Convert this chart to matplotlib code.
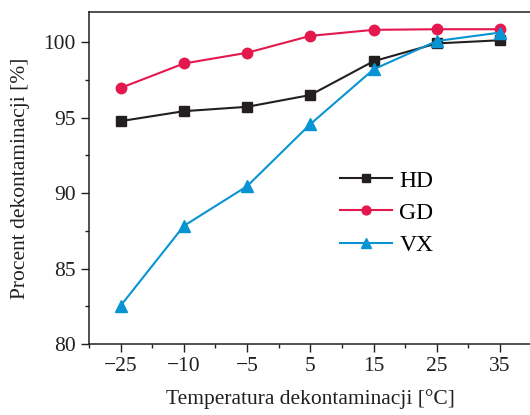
import matplotlib
matplotlib.use("Agg")
import matplotlib.pyplot as plt
from matplotlib.ticker import AutoMinorLocator, MultipleLocator

temps = ["\u221225", "\u221210", "\u22125", "5", "15", "25", "35"]
hd = [94.77, 95.43, 95.72, 96.5, 98.74, 99.92, 100.13]
gd = [96.97, 98.59, 99.3, 100.42, 100.82, 100.86, 100.86]
vx = [82.54, 87.83, 90.46, 94.57, 98.2, 100.08, 100.64]

plt.rcParams['font.family'] = ['Liberation Serif', 'DejaVu Serif']
plt.rcParams['font.size'] = 13

fig = plt.figure(figsize=(5.3, 4.15), dpi=100)
ax = fig.add_axes([0.168, 0.171, 0.835, 0.8])

x = range(len(temps))
ax.plot(x, hd, color='#231f20', marker='s', markersize=7.5, lw=1.5, label='HD')
ax.plot(x, gd, color='#e4184d', marker='o', markersize=7.5, lw=1.5, label='GD')
ax.plot(x, vx, color='#0894d2', marker='^', markersize=9, lw=1.5, label='VX')

ax.set_xlim(-0.5, 6.5)
ax.set_ylim(80, 102)
ax.set_xticks(list(x))
ax.set_xticklabels(temps)
ax.xaxis.set_minor_locator(MultipleLocator(0.5))
ax.yaxis.set_major_locator(MultipleLocator(5))
ax.yaxis.set_minor_locator(AutoMinorLocator(2))
ax.tick_params(which='major', direction='out', length=6, width=1, colors='#231f20', labelsize=15.5)
ax.tick_params(which='minor', direction='out', length=3, width=1, colors='#231f20')
for s in ax.spines.values():
    s.set_linewidth(1.1)
    s.set_color('#231f20')

ax.set_xlabel('Temperatura dekontaminacji [°C]', fontsize=15.5, color='#231f20', labelpad=9)
ax.set_ylabel('Procent dekontaminacji [%]', fontsize=15.5, color='#231f20', labelpad=10)

ax.legend(loc='center left', bbox_to_anchor=(0.52, 0.395), frameon=False,
          handlelength=2.2, handletextpad=0.3, labelspacing=0.45, fontsize=17,
          markerscale=0.85)

fig.savefig('out.png', dpi=100)
